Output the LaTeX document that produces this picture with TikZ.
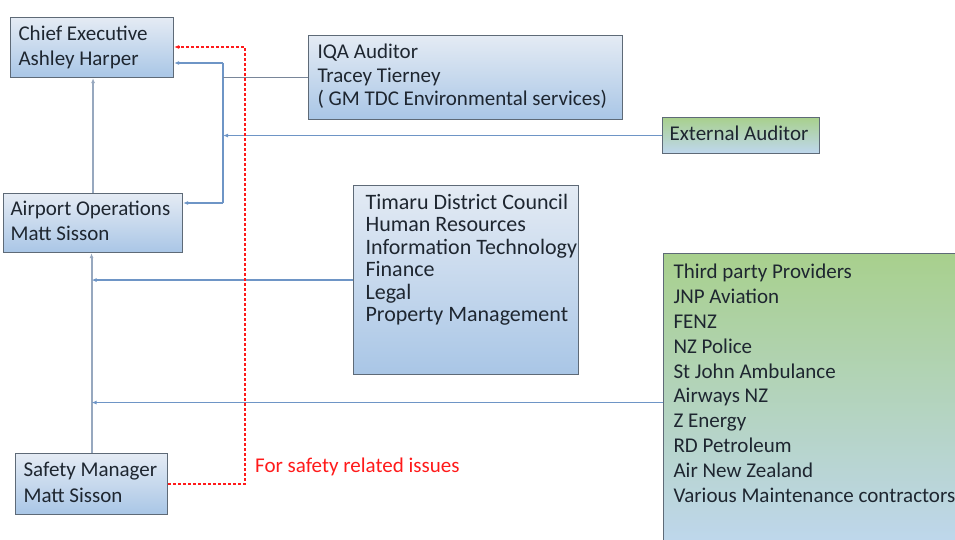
\documentclass[tikz,border=0pt]{standalone}
\usepackage{fontspec}
\setmainfont{Carlito}
\usetikzlibrary{arrows.meta}
\definecolor{boxline}{HTML}{5E6A77}
\definecolor{boxtop}{HTML}{E4EBF4}
\definecolor{boxbot}{HTML}{A9C6E6}
\definecolor{greentop}{HTML}{A8D08D}
\definecolor{bluebot}{HTML}{BFD7EF}
\definecolor{linkblue}{HTML}{6E95C6}
\definecolor{linkgray}{HTML}{97A8BF}
\definecolor{txt}{HTML}{1E2630}
\definecolor{safety}{HTML}{FF1A1A}
% unbroken left-aligned lines in a field of fixed width
\newcommand{\linesin}[2]{\makebox[#1][l]{\begin{tabular}{@{}l@{}}#2\end{tabular}}}
% the same, hung from the top of a field of fixed width and height
\newcommand{\toplinesin}[3]{\parbox[t][#2][t]{#1}{\begin{tabular}[t]{@{}l@{}}#3\end{tabular}}}
\tikzset{
  orgbox/.style={draw=boxline, line width=1.1pt, top color=boxtop, bottom color=boxbot,
    anchor=north west, inner ysep=0pt, text=txt},
  greenbox/.style={orgbox, top color=greentop, bottom color=bluebot},
  tip/.style={-{Latex[length=5pt,width=4pt]}},
  trunk/.style={draw=linkgray, line width=2pt, tip},
  feed/.style={draw=linkblue, line width=1.2pt},
  feedtip/.style={feed, tip},
  safetylink/.style={draw=safety, line width=1.3pt, dash pattern=on 3pt off 2pt, tip},
}
\begin{document}
\begin{tikzpicture}[x=1pt,y=-1pt]
\useasboundingbox (0,0) rectangle (955,540);
\clip (0,0) rectangle (955,540);

% people boxes on the left
\node[orgbox, inner xsep=8pt, minimum height=60pt,
      font=\fontsize{21}{25}\selectfont] (ce) at (10,17)
  {\linesin{147pt}{Chief Executive\\Ashley Harper}};
\node[orgbox, inner xsep=7pt, minimum height=59pt,
      font=\fontsize{21}{25}\selectfont] (ao) at (3,193)
  {\linesin{165pt}{Airport Operations\\Matt Sisson}};
\node[orgbox, inner xsep=8pt, minimum height=61pt,
      font=\fontsize{21}{26}\selectfont] (sm) at (15,453)
  {\linesin{136pt}{Safety Manager\\Matt Sisson}};

% auditors
\node[orgbox, inner xsep=9pt, minimum height=84pt,
      font=\fontsize{21}{23.3}\selectfont] (iqa) at (308,35)
  {\linesin{296pt}{IQA Auditor\\Tracey Tierney\\( GM TDC Environmental services)}};
\node[greenbox, inner xsep=7pt, minimum height=36pt,
      font=\fontsize{21}{25}\selectfont] (ea) at (662,117)
  {\linesin{143pt}{External Auditor}};

% support organisations
\node[orgbox, inner xsep=12pt, inner ysep=8pt, font=\fontsize{22}{22.5}\selectfont] (tdc) at (353,185)
  {\toplinesin{201pt}{173pt}{Timaru District Council\\Human Resources\\Information Technology\\Finance\\Legal\\Property Management}};
\node[greenbox, inner xsep=10pt, inner ysep=8pt, font=\fontsize{21}{24.8}\selectfont] (tp) at (663,253)
  {\toplinesin{292pt}{282pt}{Third party Providers\\JNP Aviation\\FENZ\\NZ Police\\St John Ambulance\\Airways NZ\\Z Energy\\RD Petroleum\\Air New Zealand\\Various Maintenance contractors}};

% reporting line up the left side
\draw[trunk] (ao.north) -- (ao.north |- ce.south);
\draw[trunk] (sm.north) -- (sm.north |- ao.south);

% support feeding into the reporting line
\draw[feedtip] (tdc.west) -- (tdc.west -| sm.north);
\draw[feedtip] (tp.west) -- (tp.west -| sm.north);

% audit bus
\coordinate (busTop) at (223,63);
\coordinate (busBot) at (223,203);
\draw[feed] (busTop) -- (busBot);
\draw[feedtip] (busTop) -- (busTop -| ce.east);
\draw[feedtip] (busBot) -- (busBot -| ao.east);
\draw[feed, draw=linkgray!80!black] (iqa.west) -- (iqa.west -| busTop);
\draw[feedtip] (ea.west) -- (ea.west -| busTop);

% direct safety line
\coordinate (redTop) at (245,47);
\draw[safetylink] (sm.east) -| (redTop) -- (redTop -| ce.east);
\node[anchor=west, text=safety, font=\fontsize{21}{25}\selectfont, inner sep=0pt] (note) at (255,467)
  {For safety related issues};
\end{tikzpicture}
\end{document}
